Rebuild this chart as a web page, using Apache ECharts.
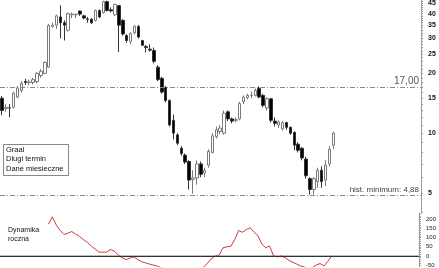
<!DOCTYPE html>
<html><head><meta charset="utf-8">
<script src="https://cdn.jsdelivr.net/npm/echarts@6/dist/echarts.min.js"></script>
<style>html,body{margin:0;padding:0;background:#fff}#c{width:439px;height:268px}</style>
</head><body><div id="c"></div>
<script>
const openP  = [15.0,13.3,13.4,13.5,15.2,16.4,18.2,18.0,18.0,18.2,19.5,20.0,21.5,34.5,35,38.5,36,33,39.5,39.5,41.2,39.0,37.6,37.5,37.0,41.5,40.5,46,41.8,39.5,43.9,37,31,29,32,34.5,29.3,27.3,26.5,26.1,21.5,18.9,17.0,14.6,11.6,9.8,8.4,7.75,7.2,5.85,5.95,7.0,6.3,6.9,8.0,9.6,10.2,10.0,12.8,11.8,11.6,11.8,14.4,15.1,15.5,15.5,16.8,15.5,13.4,14.9,11.5,11.0,10.5,11.3,10.7,10.1,8.8,8.4,7.4,5.9,5.2,5.7,6.5,5.8,7.0,8.7];
const closeP = [13.0,13.5,13.4,15.9,16.9,17.8,18.0,18.1,18.6,20.0,20.5,22.7,34.9,35.0,39,36,35,40,39.8,39.7,39.8,38.0,37.4,36.0,41.5,38.5,46,41.5,41.3,44.5,35,31.6,29.3,31.8,34.5,30.5,27.7,27.0,26.2,23.0,18.6,16.1,14.6,11.0,10.0,8.9,7.9,7.15,5.8,5.95,7.0,6.2,6.5,8.1,9.7,10.4,10.6,12.6,11.8,11.5,11.7,14.1,15.2,15.5,15.5,16.4,15.2,13.8,14.9,11.6,11.2,11.4,11.3,10.7,10.0,8.7,8.2,7.5,6.1,5.2,5.9,6.5,5.7,6.9,8.3,10.0];
const lowP   = [12.3,12.8,12.0,13.3,15.0,16.0,17.5,17.4,17.6,17.8,19.0,19.8,21.3,34,33.5,30,29.3,32.5,38,38,39,37.5,36,35.5,36.5,38,40,41,40.5,39,25.6,31,28.5,28,31.5,30,27.5,25.5,25.8,22.5,18.3,15.8,14.3,10.8,9.3,8.7,7.7,7.0,5.2,4.95,5.5,6.0,6.0,6.7,7.9,9.4,9.9,9.8,11.5,11.2,11.3,11.6,14,14.8,15,15.3,15,13.5,13.0,11.3,10.8,10.6,10.3,10.4,9.8,8.2,8.0,7.3,5.9,4.9,4.9,5.3,5.3,5.4,6.8,8.3];
const highP  = [15.4,14.0,14.0,16.2,17.3,18.3,18.8,18.6,19.0,20.3,21.0,23.0,35.5,36,39.5,44,37,40.5,40.5,40,41.5,39.5,38.5,38,42,42,46.5,46.5,43,45,44.2,37.5,31.5,32.2,35,35,29.5,27.8,28,27,22,19.2,17.3,14.8,12.4,10,8.6,7.9,7.3,6.5,7.3,7.2,6.7,8.3,10,10.8,11,13,13,12,12,14.4,15.5,15.8,16.2,16.8,17.2,15.8,15.2,15.0,12.0,11.6,11.5,11.4,10.8,10.2,9.0,8.5,7.6,6.0,6.0,6.7,6.8,7.3,8.6,10.2];
const dynamics = ['-','-','-','-','-','-','-','-','-','-','-','-',175,215,170,140,118,125,134,120,107,90,75,55,38,21,20,21,35,25,5,-11,-20,-12,-5,-20,-32,-38,-45,-50,-56,-65,-70,-75,-78,-80,-82,-84,-86,-85,-82,-80,-62,-40,-15,0,5,45,50,53,90,140,130,145,155,130,110,65,45,55,0,-5,0,-10,-25,-35,-45,-55,-62,-70,-65,-50,-42,-55,-30,0];
const priceTicks = [5,10,15,20,25,30,35,40,45];
const priceMinorTicks = [4,5,6,7,8,9,10,11,12,13,14,15,16,17,18,19,20,21,22,23,24,25,26,27,28,29,30,31,32,33,34,35,36,37,38,39,40,41,42,43,44,45,46];
const dynTicks = [-50,0,50,100,150,200];
const dynMinorTicks = [-50,-40,-30,-20,-10,0,10,20,30,40,50,60,70,80,90,100,110,120,130,140,150,160,170,180,190,200,210,220,230];
const levelTop = 17.00, levelMin = 4.88;
const nSlots = 108;

const cats = [];
for (let i = 0; i < nSlots; i++) cats.push(String(i + 1));
const candles = [];
for (let i = 0; i < nSlots; i++) {
  candles.push(i < openP.length ? [openP[i], closeP[i], lowP[i], highP[i]] : '-');
}
const dyn = [];
for (let i = 0; i < nSlots; i++) dyn.push(i < dynamics.length ? dynamics[i] : '-');

const chart = echarts.init(document.getElementById('c'), null, {renderer: 'canvas'});
const axisGray = '#9a9a9a';
const fontFam = '"Liberation Sans", Arial, sans-serif';
chart.setOption({
  animation: false,
  backgroundColor: '#fff',
  grid: [
    {left: 0, right: 18, top: 0, height: 213},
    {left: 0, right: 18, top: 213, bottom: 0}
  ],
  xAxis: [
    {type: 'category', data: cats, gridIndex: 0, show: false, boundaryGap: true},
    {type: 'category', data: cats, gridIndex: 1, position: 'top', boundaryGap: true,
     axisLine: {show: true, lineStyle: {color: '#bdbdbd', width: 2}},
     axisTick: {show: false}, axisLabel: {show: false}}
  ],
  yAxis: [
    {type: 'log', gridIndex: 0, position: 'right', min: 3.96, max: 46.6,
     axisLine: {show: true, lineStyle: {color: axisGray}},
     axisTick: {show: true, inside: false, length: 2, lineStyle: {color: axisGray}, customValues: priceMinorTicks},
     axisLabel: {show: true, customValues: priceTicks, margin: 7, fontSize: 7, color: '#111', fontWeight: 'bold', fontFamily: fontFam},
     splitLine: {show: false}},
    {type: 'value', gridIndex: 1, position: 'right', min: -59, max: 236,
     axisLine: {show: true, lineStyle: {color: axisGray}},
     axisTick: {show: true, length: 2, lineStyle: {color: axisGray}, customValues: dynMinorTicks},
     minorTick: {show: false},
     axisLabel: {show: true, customValues: dynTicks, margin: 7, fontSize: 6, color: '#222', fontFamily: fontFam},
     splitLine: {show: false}}
  ],
  series: [
    {type: 'candlestick', xAxisIndex: 0, yAxisIndex: 0, data: candles, barWidth: 3,
     itemStyle: {color: '#ffffff', color0: '#000000', borderColor: '#7a7a7a', borderColor0: '#333333', borderWidth: 1},
     markLine: {silent: true, symbol: ['none', 'none'],
       lineStyle: {color: '#888', type: [5, 2, 1, 2], width: 1},
       data: [
         {yAxis: levelTop, label: {show: true, position: 'insideEndTop', formatter: '17,00', fontSize: 10, color: '#555', fontFamily: fontFam, distance: [2, 1]}},
         {yAxis: levelMin, label: {show: true, position: 'insideEndTop', formatter: 'hist. minimum: 4,88', fontSize: 8, color: '#444', fontFamily: fontFam, distance: [2, 1]}}
       ]}},
    {type: 'line', xAxisIndex: 1, yAxisIndex: 1, data: dyn, showSymbol: false, symbol: 'none',
     lineStyle: {color: '#cc3b3b', width: 1}, clip: true,
     markLine: {silent: true, symbol: ['none', 'none'], label: {show: false},
       lineStyle: {color: '#333', type: 'solid', width: 1},
       data: [{yAxis: 0}]}}
  ],
  graphic: [
    {type: 'rect', left: 3, top: 144, shape: {width: 65, height: 31},
     style: {fill: '#fff', stroke: '#888', lineWidth: 1}},
    {type: 'text', left: 6, top: 145, style: {text: 'Graal\nDlugi termin\nDane miesieczne', font: '7.5px "Liberation Sans", Arial, sans-serif', fill: '#111', lineHeight: 9.5}},
    {type: 'text', left: 8, top: 226, style: {text: 'Dynamika\nroczna', font: '7px "Liberation Sans", Arial, sans-serif', fill: '#111', lineHeight: 8.5}}
  ]
});
</script></body></html>
